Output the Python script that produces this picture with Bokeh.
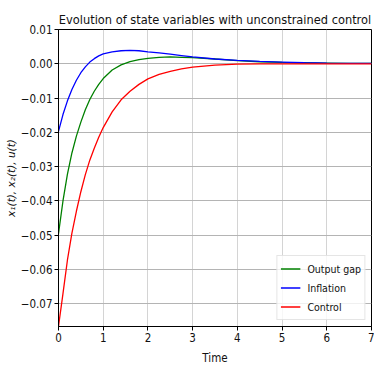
from bokeh.plotting import figure
from bokeh.models import Range1d, FixedTicker, CustomJSTickFormatter
from bokeh.embed import file_html
from bokeh.resources import INLINE

# ---- data ----
time = [0.0, 0.1, 0.2, 0.3, 0.4, 0.5, 0.6, 0.7, 0.8, 0.9, 1.0, 1.2, 1.4, 1.6, 1.8,
        2.0, 2.25, 2.5, 2.75, 3.0, 3.5, 4.0, 4.5, 5.0, 5.5, 6.0, 6.5, 7.0]
output_gap = [-0.0495, -0.0400, -0.0322, -0.0260, -0.0211, -0.0170, -0.0134, -0.0104,
              -0.0080, -0.0060, -0.0043, -0.0018, -0.0003, 0.0006, 0.0012, 0.0016,
              0.0019, 0.0020, 0.0019, 0.0018, 0.0014, 0.0009, 0.0006, 0.0004, 0.0003,
              0.0002, 0.0001, 0.0001]
inflation = [-0.0197, -0.0148, -0.0108, -0.0075, -0.0048, -0.0026, -0.0009, 0.0005,
             0.0015, 0.0023, 0.0029, 0.0035, 0.0038, 0.0039, 0.0038, 0.0035, 0.0032,
             0.0028, 0.0024, 0.0020, 0.0014, 0.0010, 0.0007, 0.0005, 0.0003, 0.0002,
             0.00015, 0.0001]
control = [-0.0766, -0.0670, -0.0572, -0.0494, -0.0430, -0.0373, -0.0323, -0.0281,
           -0.0246, -0.0214, -0.0186, -0.0140, -0.0105, -0.0080, -0.0060, -0.0044,
           -0.0031, -0.0022, -0.0015, -0.0010, -0.0004, -0.0001, -0.00003, 0.0, 0.0,
           0.0, 0.0, 0.0]
series_names = ["Output gap", "Inflation", "Control"]
x_ticks = [0, 1, 2, 3, 4, 5, 6, 7]
x_tick_labels = ["0", "1", "2", "3", "4", "5", "6", "7"]
y_ticks = [-0.07, -0.06, -0.05, -0.04, -0.03, -0.02, -0.01, 0.0, 0.01]
y_tick_labels = ["\u22120.07", "\u22120.06", "\u22120.05", "\u22120.04", "\u22120.03",
                 "\u22120.02", "\u22120.01", "0.00", "0.01"]
title_text = "Evolution of state variables with unconstrained control"
x_label = "Time"
y_label = "x\u2081(t), x\u2082(t), u(t)"

FONT = "DejaVu Sans Condensed, Liberation Sans Narrow, Liberation Sans, sans-serif"

p = figure(width=374, height=367, output_backend="svg", toolbar_location=None,
           x_range=Range1d(0, 7), y_range=Range1d(-0.0766, 0.01),
           min_border_left=58, min_border_right=3, min_border_top=29,
           min_border_bottom=40, title=title_text)
p.background_fill_color = "white"
p.border_fill_color = "white"
p.outline_line_color = "black"
p.outline_line_width = 1

p.title.align = "center"
p.title.text_font = FONT
p.title.text_font_size = "12.7px"
p.title.text_font_style = "normal"
p.title.text_color = "#111111"
p.title.standoff = 6

def fmt(tvals, tlabels):
    return CustomJSTickFormatter(args=dict(tvals=tvals, tlabels=tlabels), code="""
        let best = 0, bd = Infinity;
        for (let i = 0; i < tvals.length; i++) {
            const d = Math.abs(tvals[i] - tick);
            if (d < bd) { bd = d; best = i; }
        }
        return tlabels[best];
    """)

p.xaxis.ticker = FixedTicker(ticks=x_ticks)
p.xaxis.formatter = fmt(x_ticks, x_tick_labels)
p.yaxis.ticker = FixedTicker(ticks=y_ticks)
p.yaxis.formatter = fmt(y_ticks, y_tick_labels)

for ax in (p.xaxis, p.yaxis):
    ax.axis_line_color = "black"
    ax.major_tick_line_color = "black"
    ax.major_tick_out = 4
    ax.major_tick_in = 0
    ax.minor_tick_line_color = None
    ax.major_label_text_font = FONT
    ax.major_label_text_font_size = "11.5px"
    ax.major_label_text_color = "#111111"
    ax.axis_label_text_font = FONT
    ax.axis_label_text_font_size = "11.5px"
    ax.axis_label_text_font_style = "normal"
    ax.axis_label_text_color = "#111111"
    ax.major_label_standoff = 2

p.xaxis.axis_label = x_label
p.xaxis.axis_label_standoff = 6
p.yaxis.axis_label = y_label
p.yaxis.axis_label_text_font = "DejaVu Sans, sans-serif"
p.yaxis.axis_label_text_font_style = "italic"
p.yaxis.axis_label_text_font_size = "10.5px"
p.yaxis.axis_label_standoff = 1

p.xgrid.grid_line_color = "#d4d4d4"
p.ygrid.grid_line_color = "#b4b4b4"
p.xgrid.grid_line_width = 1
p.ygrid.grid_line_width = 1

colors = ["#008000", "#0000ff", "#ff0000"]
for ys, name, c in zip([output_gap, inflation, control], series_names, colors):
    p.line(time, ys, line_color=c, line_width=1.3, legend_label=name)

lg = p.legend[0]
lg.location = "bottom_right"
lg.margin = 6
lg.padding = 3
lg.spacing = 0
lg.glyph_width = 20
lg.glyph_height = 19
lg.label_height = 19
lg.label_standoff = 7
lg.label_text_font = FONT
lg.label_text_font_size = "10.5px"
lg.label_text_color = "#111111"
lg.border_line_color = "#cccccc"
lg.border_line_width = 1
lg.background_fill_color = "white"
lg.background_fill_alpha = 0.8

open("out.html", "w").write(file_html(p, INLINE))
